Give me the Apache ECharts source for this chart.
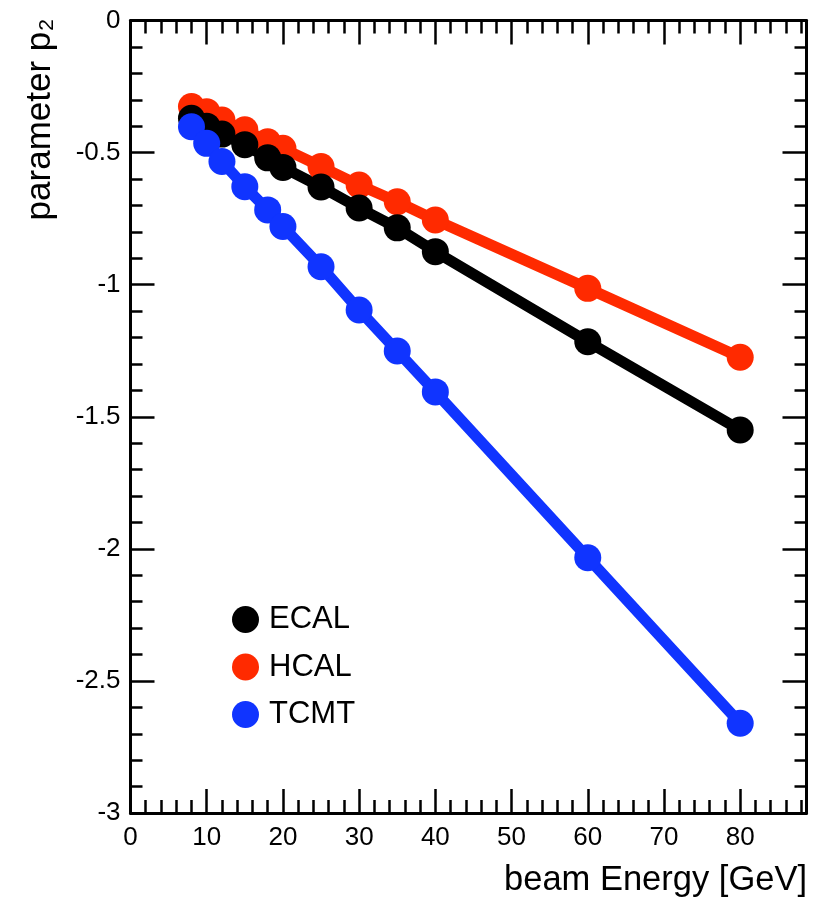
<!DOCTYPE html>
<html>
<head>
<meta charset="utf-8">
<script src="https://cdn.jsdelivr.net/npm/echarts@6/dist/echarts.min.js"></script>
<style>
  html, body { margin: 0; padding: 0; background: #fff; }
  #main { width: 818px; height: 901px; }
</style>
</head>
<body>
<div id="main"></div>
<script>
// beam energies (GeV) and fitted parameter p2 per detector
var energy = [8, 10, 12, 15, 18, 20, 25, 30, 35, 40, 60, 80];
var ecal = [-0.37, -0.40, -0.43, -0.47, -0.52, -0.556, -0.63, -0.71, -0.785, -0.875, -1.216, -1.55];
var hcal = [-0.326, -0.345, -0.377, -0.414, -0.459, -0.484, -0.553, -0.623, -0.686, -0.755, -1.014, -1.275];
var tcmt = [-0.402, -0.465, -0.534, -0.629, -0.717, -0.78, -0.932, -1.096, -1.251, -1.406, -2.034, -2.66];

var font = 'Liberation Sans';
var myChart = echarts.init(document.getElementById('main'));

function pairs(ys) {
    return energy.map(function (e, i) { return [e, ys[i]]; });
}

var gridBox = { left: 130.5, right: 11.5, top: 20.5, bottom: 88 };

// x axis helper: major (interval 10) or minor (interval 2) ticks, drawn inside the frame
function xAx(grid, pos, step, len, labels) {
    return {
        type: 'value', gridIndex: grid, position: pos, min: 0, max: 88.7, interval: step,
        axisLine: { show: step === 10, onZero: false, lineStyle: { color: '#000', width: 3 } },
        axisTick: { show: true, inside: true, length: len, lineStyle: { color: '#000', width: 2.5 } },
        axisLabel: {
            show: labels, margin: 12, color: '#000', fontFamily: font, fontSize: 26,
            showMaxLabel: false
        },
        splitLine: { show: false }
    };
}

function yAx(grid, pos, labels, visible) {
    return {
        type: 'value', gridIndex: grid, position: pos, min: -3, max: 0, interval: 0.5,
        show: visible,
        axisLine: { show: true, onZero: false, lineStyle: { color: '#000', width: 3 } },
        axisTick: { show: true, inside: true, length: 24, lineStyle: { color: '#000', width: 2.5 } },
        minorTick: { show: true, splitNumber: 5, length: 12, lineStyle: { color: '#000', width: 2.5 } },
        axisLabel: { show: labels, margin: 10, color: '#000', fontFamily: font, fontSize: 26 },
        splitLine: { show: false }
    };
}

function lineSeries(name, color, ys) {
    return {
        name: name,
        type: 'line',
        xAxisIndex: 0,
        yAxisIndex: 0,
        data: pairs(ys),
        symbol: 'circle',
        symbolSize: 27,
        itemStyle: { color: color },
        lineStyle: { color: color, width: 11 }
    };
}

var option = {
    animation: false,
    backgroundColor: '#fff',
    // grid 0 carries the frame, major ticks and data; grid 1 (same box) only the minor x ticks
    grid: [gridBox, gridBox],
    xAxis: [
        xAx(0, 'bottom', 10, 24, true),
        xAx(0, 'top', 10, 24, false),
        xAx(1, 'bottom', 2, 13, false),
        xAx(1, 'top', 2, 13, false)
    ],
    yAxis: [
        yAx(0, 'left', true, true),
        yAx(0, 'right', false, true),
        yAx(1, 'left', false, false)
    ],
    legend: {
        data: ['ECAL', 'HCAL', 'TCMT'],
        orient: 'vertical',
        left: 227,
        top: 599,
        icon: 'circle',
        itemWidth: 27,
        itemHeight: 27,
        itemGap: 16.5,
        textStyle: { color: '#000', fontFamily: font, fontSize: 31, padding: [0, 0, 0, 5] }
    },
    graphic: [
        {
            type: 'text', x: 807, y: 880,
            style: {
                text: 'beam Energy [GeV]', fill: '#000', font: '34.5px "Liberation Sans"',
                textAlign: 'right', textVerticalAlign: 'middle'
            }
        },
        {
            type: 'text', x: 40, y: 19, rotation: Math.PI / 2,
            style: {
                text: '{a|parameter p}{s|2}',
                textAlign: 'right', textVerticalAlign: 'middle',
                rich: {
                    a: { fontFamily: font, fontSize: 35, fill: '#000' },
                    s: { fontFamily: font, fontSize: 21, fill: '#000', verticalAlign: 'bottom', padding: [14, 0, 0, 1] }
                }
            }
        }
    ],
    series: [
        lineSeries('HCAL', '#ff2a00', hcal),
        lineSeries('ECAL', '#000000', ecal),
        lineSeries('TCMT', '#1034ff', tcmt)
    ]
};

myChart.setOption(option);
</script>
</body>
</html>
